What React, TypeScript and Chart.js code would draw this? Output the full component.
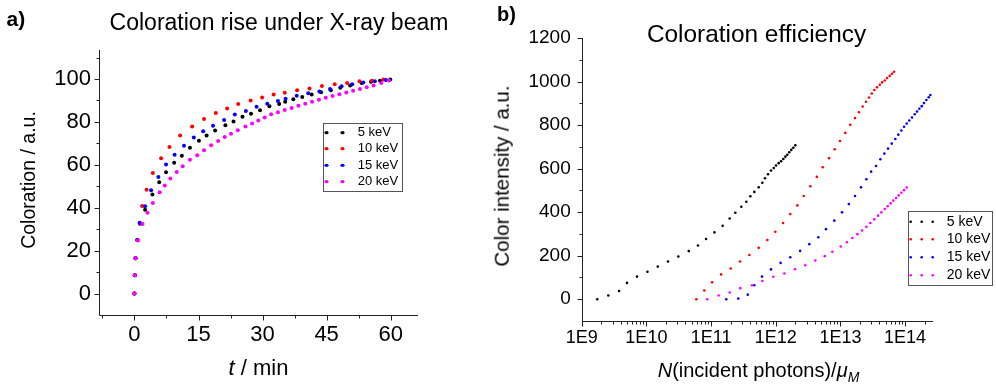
import React, { useEffect, useRef } from 'react';
import { Chart, registerables } from 'chart.js';

Chart.register(...registerables);

const FONT = '"Liberation Sans", Arial, Helvetica, sans-serif';

// ---------- shared ----------
const seriesLabels = ['5 keV', '10 keV', '15 keV', '20 keV'];
const seriesColors = ['#000000', '#ff0000', '#0000ff', '#ff00ff'];

// ---------- panel a: coloration (normalised) vs time ----------
const t5 = [0, 0.1, 0.25, 0.7, 1.3, 2.5, 4.2, 5.8, 7.4, 9.3, 11.1, 13.0, 15.1, 16.9, 18.9, 21.3, 23.2, 25.3, 27.3, 29.4, 31.6, 33.9, 35.3, 37.2, 39.3, 41.5, 43.7, 46.0, 48.2, 50.5, 53.2, 55.4, 57.5, 59.9];
const c5 = [0, 8.5, 16.5, 25, 32.5, 39.1, 46.1, 51.9, 56.5, 61.0, 64.2, 68.0, 71.2, 73.6, 76.0, 78.4, 80.2, 82.4, 83.8, 85.4, 87.3, 88.3, 89.4, 90.6, 91.6, 92.8, 93.8, 94.8, 95.9, 96.9, 98.1, 98.7, 99.2, 99.7];

const t10 = [0, 0.1, 0.25, 0.65, 1.2, 1.8, 2.85, 4.3, 6.25, 8.2, 10.7, 13.5, 16.3, 19.05, 21.7, 24.3, 27.2, 29.9, 32.6, 35.2, 38.1, 41.0, 43.9, 46.9, 49.8, 52.7, 55.6, 58.3];
const c10 = [0, 8.5, 16.5, 25, 33, 40.8, 48.4, 56.2, 63.0, 68.3, 73.6, 77.9, 81.4, 84.1, 86.2, 88.3, 90.0, 91.4, 92.8, 93.6, 94.7, 95.6, 96.7, 97.5, 98.1, 98.9, 99.2, 99.7];

const t15 = [0, 0.1, 0.25, 0.7, 1.25, 2.5, 3.9, 5.6, 7.4, 9.4, 11.6, 13.9, 16.1, 18.4, 21.0, 23.5, 26.1, 28.6, 31.1, 33.6, 35.4, 38.0, 40.7, 43.3, 45.8, 48.5, 51.0, 53.6, 56.3, 58.9];
const c15 = [0, 8.5, 16.5, 25, 32.9, 40.7, 48.1, 54.3, 60.1, 64.7, 68.9, 72.7, 75.6, 78.2, 80.9, 83.4, 85.1, 87.1, 88.5, 89.7, 90.8, 92.2, 93.3, 94.2, 95.3, 96.6, 97.5, 98.3, 98.9, 99.5];

const t20 = [0, 0.1, 0.25, 0.8, 1.9, 3.05, 4.3, 5.9, 7.1, 8.4, 9.9, 11.3, 13.0, 14.7, 16.3, 17.95, 19.6, 21.15, 22.6, 24.2, 26.0, 27.55, 29.0, 30.5, 32.0, 33.6, 35.2, 36.8, 38.4, 40.0, 41.6, 43.2, 44.8, 46.4, 48.0, 49.6, 51.2, 52.8, 54.4, 56.0, 57.8, 59.6];
const c20 = [0, 8.5, 16.5, 24.7, 32.4, 37.6, 42.2, 47.2, 50.3, 53.6, 56.7, 59.3, 62.3, 64.4, 66.8, 69.1, 71.1, 73.0, 74.5, 76.1, 77.8, 79.3, 80.7, 82.1, 83.5, 84.5, 85.5, 86.5, 87.5, 88.5, 89.4, 90.3, 91.2, 92.1, 92.9, 93.7, 94.5, 95.3, 96.1, 97.0, 98.1, 99.3];

const aXTicks = [0, 15, 30, 45, 60];
const aXMinor = [-7.5, 7.5, 22.5, 37.5, 52.5];
const aYTicks = [0, 20, 40, 60, 80, 100];
const aYMinor = [10, 30, 50, 70, 90, 110];

// ---------- panel b: colour intensity vs incident photons ----------
const n5 = [1.74e9, 2.58e9, 3.78e9, 5.01e9, 7.16e9, 1.04e10, 1.5e10, 2.16e10, 3.12e10, 4.52e10, 6.28e10, 8.36e10, 1.13e11, 1.51e11, 1.94e11, 2.37e11, 2.94e11, 3.51e11, 4.05e11, 4.67e11, 5.46e11, 6.21e11, 6.82e11, 7.6e11, 8.45e11, 9.31e11, 1.01e12, 1.11e12, 1.21e12, 1.31e12, 1.41e12, 1.51e12, 1.62e12, 1.74e12, 1.87e12, 2.01e12];
const i5 = [0, 17, 38, 75, 104, 126, 150, 173, 196, 221, 247, 277, 307, 337, 371, 397, 425, 448, 473, 493, 514, 535, 556, 574, 591, 603, 614, 625, 634, 644, 655, 664, 675, 686, 696, 707];

const n10 = [5.92e10, 7.87e10, 1.04e11, 1.43e11, 2.01e11, 2.81e11, 3.91e11, 5.46e11, 7.41e11, 9.86e11, 1.3e12, 1.68e12, 2.16e12, 2.71e12, 3.43e12, 4.31e12, 5.33e12, 6.67e12, 8.17e12, 9.86e12, 1.19e13, 1.42e13, 1.68e13, 1.94e13, 2.21e13, 2.49e13, 2.77e13, 3.05e13, 3.35e13, 3.68e13, 4.06e13, 4.41e13, 4.84e13, 5.26e13, 5.79e13, 6.28e13, 6.75e13];
const i10 = [0, 40, 78, 114, 141, 173, 203, 236, 272, 310, 350, 391, 431, 474, 519, 562, 606, 648, 689, 727, 764, 801, 832, 859, 885, 907, 927, 945, 961, 974, 985, 996, 1005, 1016, 1026, 1036, 1045];

const n15 = [1.72e11, 2.64e11, 3.69e11, 4.67e11, 6.14e11, 8.45e11, 1.19e12, 1.68e12, 2.38e12, 3.3e12, 4.56e12, 5.98e12, 8.05e12, 1.06e13, 1.35e13, 1.68e13, 2.08e13, 2.52e13, 2.98e13, 3.56e13, 4.15e13, 4.78e13, 5.45e13, 6.22e13, 7.06e13, 7.87e13, 8.75e13, 9.64e13, 1.06e14, 1.16e14, 1.28e14, 1.41e14, 1.53e14, 1.66e14, 1.81e14, 1.96e14, 2.13e14, 2.32e14, 2.46e14];
const i15 = [0, 3, 21, 64, 104, 137, 167, 193, 222, 253, 285, 322, 361, 399, 437, 474, 514, 551, 586, 612, 643, 669, 692, 715, 736, 756, 775, 792, 807, 821, 835, 850, 862, 875, 887, 901, 915, 928, 938];

const n20 = [8.75e10, 1.31e11, 1.94e11, 2.83e11, 4.3e11, 6.21e11, 9.18e11, 1.36e12, 1.99e12, 2.87e12, 4.09e12, 5.73e12, 7.52e12, 1.01e13, 1.26e13, 1.53e13, 1.83e13, 2.16e13, 2.52e13, 2.9e13, 3.35e13, 3.82e13, 4.3e13, 4.84e13, 5.38e13, 6.0e13, 6.59e13, 7.24e13, 7.96e13, 8.77e13, 9.64e13, 1.06e14];
const i20 = [0, 17, 31, 51, 64, 84, 103, 118, 138, 156, 178, 198, 218, 242, 262, 281, 299, 316, 333, 350, 367, 384, 399, 414, 427, 441, 453, 465, 477, 489, 501, 513];

const bXTicks = [1e9, 1e10, 1e11, 1e12, 1e13, 1e14];
const bXMinor = [2, 3, 4, 5, 6, 7, 8, 9].flatMap((m) => [1e9, 1e10, 1e11, 1e12, 1e13, 1e14].map((d) => m * d)).filter((v) => v < 2.73e14);
const bYTicks = [0, 200, 400, 600, 800, 1000, 1200];
const bYMinor = [100, 300, 500, 700, 900, 1100];

// ---------- helpers ----------
function pts(xs: number[], ys: number[]) {
  const n = Math.min(xs.length, ys.length);
  const out: { x: number; y: number }[] = [];
  for (let i = 0; i < n; i++) out.push({ x: xs[i], y: ys[i] });
  return out;
}

const axesPlugin = {
  id: 'panelAxes',
  beforeDatasetsDraw(chart: any, _a: any, o: any) {
    const { ctx, chartArea: a } = chart;
    const xs = chart.scales.x;
    const ys = chart.scales.y;
    const L = Math.round(a.left) + 0.5;
    const B = Math.round(a.bottom) + 0.5;
    ctx.save();
    ctx.strokeStyle = '#222';
    ctx.lineWidth = 1;
    ctx.beginPath();
    ctx.moveTo(L, Math.round(a.top));
    ctx.lineTo(L, B);
    ctx.lineTo(Math.round(a.right), B);
    const tick = (vals: number[], len: number, axis: string) => {
      for (const v of vals) {
        if (axis === 'x') {
          const p = Math.round(xs.getPixelForValue(v)) + 0.5;
          if (p < a.left - 1 || p > a.right + 1) continue;
          ctx.moveTo(p, B);
          ctx.lineTo(p, B + len);
        } else {
          const p = Math.round(ys.getPixelForValue(v)) + 0.5;
          if (p < a.top - 1 || p > a.bottom + 1) continue;
          ctx.moveTo(L, p);
          ctx.lineTo(L - len, p);
        }
      }
    };
    tick(o.xMajor, 5, 'x');
    tick(o.xMinor, 3, 'x');
    tick(o.yMajor, 5, 'y');
    tick(o.yMinor, 3, 'y');
    ctx.stroke();
    ctx.restore();
  },
};

const legendPlugin = {
  id: 'panelLegend',
  afterDraw(chart: any, _a: any, o: any) {
    const ctx = chart.ctx;
    const [x1, y1, x2, y2] = o.box;
    ctx.save();
    ctx.fillStyle = '#ffffff';
    ctx.fillRect(x1, y1, x2 - x1, y2 - y1);
    ctx.strokeStyle = '#555';
    ctx.lineWidth = 1;
    ctx.strokeRect(Math.round(x1) + 0.5, Math.round(y1) + 0.5, Math.round(x2 - x1), Math.round(y2 - y1));
    seriesLabels.forEach((lab, i) => {
      const y = o.rows[i];
      ctx.fillStyle = seriesColors[i];
      for (const sx of o.symX) {
        ctx.beginPath();
        if (o.kind === 'dash') ctx.ellipse(sx, y, 2.1, 1.6, 0, 0, Math.PI * 2);
        else ctx.arc(sx, y, 1.3, 0, Math.PI * 2);
        ctx.fill();
      }
      ctx.fillStyle = '#000';
      ctx.font = `${o.fontSize}px ${FONT}`;
      ctx.textBaseline = 'middle';
      ctx.textAlign = 'left';
      ctx.fillText(lab, o.textX, y);
    });
    ctx.restore();
  },
};

function makeDatasets(xs: number[][], ys: number[][], radius: number) {
  return xs.map((x, i) => ({
    label: seriesLabels[i],
    data: pts(x, ys[i]),
    showLine: false,
    pointRadius: radius,
    pointHoverRadius: radius,
    pointBorderWidth: 0,
    pointBackgroundColor: seriesColors[i],
    borderColor: seriesColors[i],
    backgroundColor: seriesColors[i],
    order: 3 - i,
  }));
}

function ChartA() {
  const ref = useRef<HTMLCanvasElement | null>(null);
  useEffect(() => {
    if (!ref.current) return;
    const chart = new Chart(ref.current, {
      type: 'scatter',
      data: { datasets: makeDatasets([t5, t10, t15, t20], [c5, c10, c15, c20], 2.0) as any },
      options: {
        responsive: false,
        maintainAspectRatio: false,
        animation: false,
        events: [],
        layout: { padding: { left: 0, right: 62, top: 50, bottom: 0 } },
        plugins: {
          legend: { display: false },
          tooltip: { enabled: false },
          panelAxes: { xMajor: aXTicks, xMinor: aXMinor, yMajor: aYTicks, yMinor: aYMinor },
          panelLegend: {
            box: [322.7, 123.3, 401.7, 191.7],
            symX: [326.5, 342.5],
            textX: 357.7,
            rows: [132.7, 148.7, 165.3, 181.7],
            fontSize: 13,
            kind: 'dash',
          },
        } as any,
        scales: {
          x: {
            type: 'linear',
            min: -8.3,
            max: 66.4,
            grid: { display: false, drawTicks: false },
            border: { display: false },
            ticks: { font: { family: FONT, size: 22 }, color: '#000', padding: 7, autoSkip: false, maxRotation: 0, callback: (v: any) => String(v) },
            afterBuildTicks: (s: any) => { s.ticks = aXTicks.map((v) => ({ value: v })); },
            afterFit: (s: any) => { s.height = 74; },
          },
          y: {
            type: 'linear',
            min: -10,
            max: 113.5,
            grid: { display: false, drawTicks: false },
            border: { display: false },
            ticks: { font: { family: FONT, size: 22 }, color: '#000', padding: 8, autoSkip: false, callback: (v: any) => String(v) },
            afterBuildTicks: (s: any) => { s.ticks = aYTicks.map((v) => ({ value: v })); },
            afterFit: (s: any) => { s.width = 99; },
          },
        },
      },
      plugins: [axesPlugin, legendPlugin],
    });
    return () => chart.destroy();
  }, []);
  return <canvas ref={ref} width={480} height={389} style={{ position: 'absolute', left: 0, top: 0, width: 480, height: 389 }} />;
}

function ChartB() {
  const ref = useRef<HTMLCanvasElement | null>(null);
  useEffect(() => {
    if (!ref.current) return;
    const chart = new Chart(ref.current, {
      type: 'scatter',
      data: { datasets: makeDatasets([n5, n10, n15, n20], [i5, i10, i15, i20], 1.3) as any },
      options: {
        responsive: false,
        maintainAspectRatio: false,
        animation: false,
        events: [],
        layout: { padding: { left: 0, right: 62.7, top: 38, bottom: 0 } },
        plugins: {
          legend: { display: false },
          tooltip: { enabled: false },
          panelAxes: { xMajor: bXTicks, xMinor: bXMinor, yMajor: bYTicks, yMinor: bYMinor },
          panelLegend: {
            box: [427.5, 210.5, 511, 284.3],
            symX: [430.7, 441.7, 452.7],
            textX: 466.7,
            rows: [221.7, 239.3, 257.3, 275.3],
            fontSize: 14,
            kind: 'dot',
          },
        } as any,
        scales: {
          x: {
            type: 'logarithmic',
            min: 1e9,
            max: 2.73e14,
            grid: { display: false, drawTicks: false },
            border: { display: false },
            ticks: {
              font: { family: FONT, size: 18 },
              color: '#000',
              padding: 6,
              autoSkip: false,
              maxRotation: 0,
              callback: (v: any) => '1E' + Math.round(Math.log10(Number(v))),
            },
            afterBuildTicks: (s: any) => { s.ticks = bXTicks.map((v) => ({ value: v })); },
            afterFit: (s: any) => { s.height = 68; },
          },
          y: {
            type: 'linear',
            min: -100,
            max: 1200,
            grid: { display: false, drawTicks: false },
            border: { display: false },
            ticks: { font: { family: FONT, size: 19 }, color: '#000', padding: 11, autoSkip: false, callback: (v: any) => String(v) },
            afterBuildTicks: (s: any) => { s.ticks = bYTicks.map((v) => ({ value: v })); },
            afterFit: (s: any) => { s.width = 101.7; },
          },
        },
      },
      plugins: [axesPlugin, legendPlugin],
    });
    return () => chart.destroy();
  }, []);
  return <canvas ref={ref} width={516} height={389} style={{ position: 'absolute', left: 480, top: 0, width: 516, height: 389 }} />;
}

const base: React.CSSProperties = {
  position: 'absolute',
  whiteSpace: 'nowrap',
  lineHeight: 1,
  fontFamily: FONT,
  color: '#000',
};

export default function App() {
  return (
    <div style={{ position: 'absolute', left: 0, top: 0, width: 996, height: 389, background: '#fff', overflow: 'hidden' }}>
      <ChartA />
      <ChartB />
      <div style={{ ...base, left: 6.5, top: 7.5, fontSize: 21, fontWeight: 'bold' }}>a)</div>
      <div style={{ ...base, left: 497, top: 4.4, fontSize: 20, fontWeight: 'bold' }}>b)</div>
      <div style={{ ...base, left: 279, top: 11, fontSize: 23, transform: 'translateX(-50%)' }}>Coloration rise under X-ray beam</div>
      <div style={{ ...base, left: 756.5, top: 22, fontSize: 24.4, transform: 'translateX(-50%)' }}>Coloration efficiency</div>
      <div style={{ ...base, left: 29.25, top: 180, fontSize: 19.5, transform: 'translate(-50%, -50%) rotate(-90deg)' }}>Coloration / a.u.</div>
      <div style={{ ...base, left: 502.2, top: 176, fontSize: 20.5, transform: 'translate(-50%, -50%) rotate(-90deg)' }}>Color intensity / a.u.</div>
      <div style={{ ...base, left: 258.5, top: 357.4, fontSize: 22, transform: 'translateX(-50%)' }}>
        <i>t</i> / min
      </div>
      <div style={{ ...base, left: 758.5, top: 359.8, fontSize: 20, transform: 'translateX(-50%)' }}>
        <i>N</i>(incident photons)/<i>μ</i>
        <span style={{ fontSize: '0.7em', fontStyle: 'italic', position: 'relative', top: '0.35em' }}>M</span>
      </div>
    </div>
  );
}
